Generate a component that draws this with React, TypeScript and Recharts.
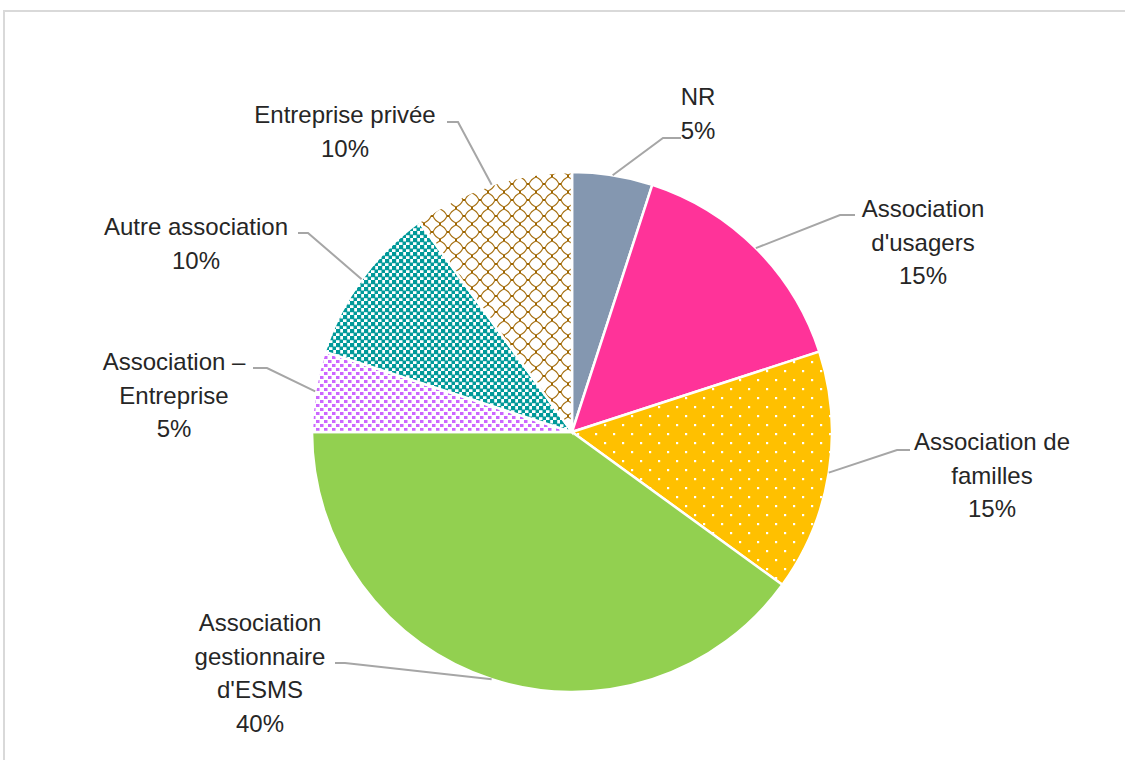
import { Cell, Pie, PieChart } from "recharts";

const categories = [
  "NR",
  "Association d'usagers",
  "Association de familles",
  "Association gestionnaire d'ESMS",
  "Association – Entreprise",
  "Autre association",
  "Entreprise privée",
];

const shares = [5, 15, 15, 40, 5, 10, 10];

// how each category name is broken into lines on the chart
const labelLines = [
  ["NR"],
  ["Association", "d'usagers"],
  ["Association de", "familles"],
  ["Association", "gestionnaire", "d'ESMS"],
  ["Association –", "Entreprise"],
  ["Autre association"],
  ["Entreprise privée"],
];

const fills = [
  "#8497B0",
  "#FF3399",
  "url(#dotsYellow)",
  "#92D050",
  "url(#confettiViolet)",
  "url(#checkTeal)",
  "url(#trellisBrown)",
];

// manual label placement, relative to pie centre (like Excel's dragged labels)
const labelLayout = [
  { elbow: [91, -294], end: [109, -294], tx: 126, ty: -327 },
  { elbow: [268, -217], end: [283, -217], tx: 351, ty: -215 },
  { elbow: [325, 18], end: [338, 18], tx: 420, ty: 18 },
  { elbow: [-227, 231], end: [-237, 231], tx: -312, ty: 199 },
  { elbow: [-305, -64], end: [-319, -64], tx: -398, ty: -62 },
  { elbow: [-264, -199], end: [-274, -199], tx: -376, ty: -197 },
  { elbow: [-114, -310], end: [-125, -310], tx: -227, ty: -309 },
];

const data = categories.map((name, i) => ({ name, value: shares[i] }));

const RAD = Math.PI / 180;
const LINE_H = 33.5;

function SliceLabel(props: any) {
  const { cx, cy, midAngle, outerRadius, index, percent } = props;
  const lay = labelLayout[index];
  const sx = cx + outerRadius * Math.cos(-midAngle * RAD);
  const sy = cy + outerRadius * Math.sin(-midAngle * RAD);
  const lines = [...labelLines[index], `${Math.round(percent * 100)}%`];
  return (
    <g>
      <polyline
        points={`${sx},${sy} ${cx + lay.elbow[0]},${cy + lay.elbow[1]} ${cx + lay.end[0]},${cy + lay.end[1]}`}
        fill="none"
        stroke="#A6A6A6"
        strokeWidth={2}
      />
      <text
        x={cx + lay.tx}
        y={cy + lay.ty}
        textAnchor="middle"
        fill="#262626"
        fontSize={24}
        fontFamily="'Liberation Sans', Arial, sans-serif"
      >
        {lines.map((t, i) => (
          <tspan key={i} x={cx + lay.tx} y={cy + lay.ty + i * LINE_H}>
            {t}
          </tspan>
        ))}
      </text>
    </g>
  );
}

export default function App() {
  return (
    <div
      style={{
        position: "absolute",
        left: 0,
        top: 0,
        width: 1125,
        height: 760,
        overflow: "hidden",
        background: "#fff",
      }}
    >
      <div
        style={{
          position: "absolute",
          left: 3,
          top: 10,
          width: 1200,
          height: 800,
          border: "2px solid #D9D9D9",
        }}
      />
      <div style={{ position: "absolute", left: 0, top: 0 }}>
        <PieChart width={1125} height={760} margin={{ top: 0, right: 0, bottom: 0, left: 0 }}>
          <defs>
            <pattern id="dotsYellow" width="18" height="18" patternUnits="userSpaceOnUse">
              <rect width="18" height="18" fill="#FFC000" />
              <rect x="1" y="1" width="2.2" height="2.2" fill="#fff" />
              <rect x="10" y="10" width="2.2" height="2.2" fill="#fff" />
            </pattern>
            <pattern id="confettiViolet" width="8" height="8" patternUnits="userSpaceOnUse">
              <rect width="8" height="8" fill="#fff" />
              <rect x="0" y="0" width="3.5" height="3" fill="#CC66FF" />
              <rect x="4" y="4" width="3.5" height="3" fill="#CC66FF" />
            </pattern>
            <pattern id="checkTeal" width="7" height="7" patternUnits="userSpaceOnUse">
              <rect width="7" height="7" fill="#fff" />
              <rect x="0" y="0" width="4.2" height="4.2" fill="#009999" />
              <rect x="3.5" y="3.5" width="4.2" height="4.2" fill="#009999" />
            </pattern>
            <pattern id="trellisBrown" width="16" height="16" patternUnits="userSpaceOnUse">
              <rect width="16" height="16" fill="#fff" />
              <path
                d="M8 1 Q13 3 15 8 Q13 13 8 15 Q3 13 1 8 Q3 3 8 1 Z"
                fill="none"
                stroke="#A67012"
                strokeWidth="1.1"
              />
              <rect x="7" y="-1" width="2" height="2" fill="#9C6500" />
              <rect x="7" y="15" width="2" height="2" fill="#9C6500" />
              <rect x="-1" y="7" width="2" height="2" fill="#9C6500" />
              <rect x="15" y="7" width="2" height="2" fill="#9C6500" />
            </pattern>
          </defs>
          <Pie
            data={data}
            dataKey="value"
            nameKey="name"
            cx={572}
            cy={432}
            outerRadius={260}
            startAngle={90}
            endAngle={-270}
            stroke="#fff"
            strokeWidth={2.5}
            label={SliceLabel}
            labelLine={false}
            isAnimationActive={false}
          >
            {data.map((d, i) => (
              <Cell key={d.name} fill={fills[i]} />
            ))}
          </Pie>
        </PieChart>
      </div>
    </div>
  );
}
